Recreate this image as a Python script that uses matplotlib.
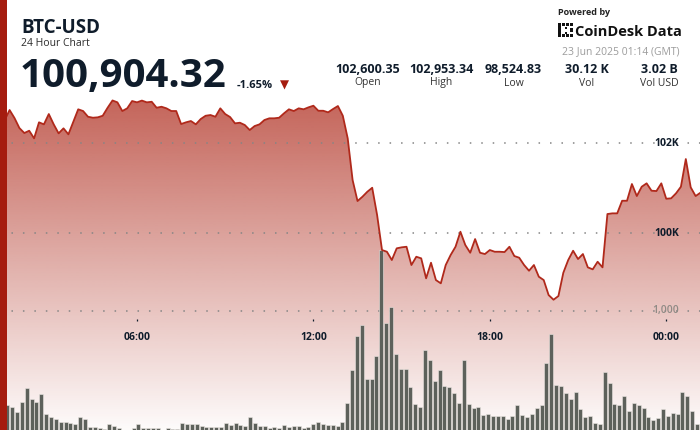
import numpy as np
import pandas as pd
import matplotlib
matplotlib.use("Agg")
import matplotlib.pyplot as plt
import matplotlib.transforms as mtransforms
from matplotlib.patches import Rectangle, PathPatch

plt.rcParams["font.family"] = ["Open Sans", "DejaVu Sans"]

# ---- data (10-minute points, 22 Jun 01:20 -> 23 Jun 01:10) ----
PRICES = [
    102600, 102518, 102740, 102562, 102340, 102229, 102280, 102111, 102467, 102422,
    102651, 102422, 102222, 102333, 102200, 102480, 102756, 102718, 102591, 102569,
    102578, 102613, 102791, 102953, 102911, 102718, 102778, 102940, 102911, 102950,
    102911, 102924, 102791, 102813, 102778, 102718, 102718, 102429, 102467, 102496,
    102422, 102540, 102613, 102629, 102591, 102778, 102651, 102584, 102444, 102458,
    102407, 102296, 102384, 102422, 102518, 102556, 102556, 102569, 102667, 102756,
    102718, 102778, 102756, 102800, 102836, 102724, 102724, 102689, 102762, 102829,
    102613, 102111, 101184, 100718, 100813, 100924, 101013, 100407, 99629, 99591,
    99407, 99667, 99689, 99702, 99296, 99480, 99444, 99000, 99347, 98962,
    98889, 99296, 99518, 99702, 100036, 99740, 99569, 99873, 99569, 99540,
    99629, 99591, 99591, 99584, 99702, 99496, 99458, 99296, 99169, 99296,
    99036, 98962, 98629, 98525, 98607, 99124, 99407, 99613, 99429, 99540,
    99244, 99200, 99369, 99244, 100429, 100444, 100444, 100724, 100724, 101096,
    100829, 101036, 101111, 100947, 100940, 101111, 100769, 100778, 100889, 101036,
    101651, 101022, 100829, 100904,
]
VOLUMES = [
    230, 260, 211, 191, 149, 233, 351, 259, 233, 301,
    135, 107, 90, 65, 65, 56, 51, 107, 90, 28,
    28, 19, 8, 48, 36, 14, 4, 4, 19, 51,
    14, 14, 14, 19, 3, 17, 11, 11, 56, 51,
    51, 51, 34, 28, 23, 23, 23, 56, 42, 61,
    42, 36, 107, 61, 36, 34, 19, 28, 14, 40,
    23, 34, 34, 19, 28, 51, 70, 53, 42, 42,
    34, 67, 225, 505, 792, 879, 430, 427, 623, 1516,
    899, 1030, 640, 511, 514, 365, 219, 191, 674, 590,
    413, 508, 371, 360, 309, 230, 584, 222, 183, 191,
    129, 137, 120, 120, 118, 95, 118, 213, 126, 110,
    137, 183, 208, 562, 803, 379, 371, 314, 261, 320,
    174, 112, 115, 56, 51, 486, 393, 219, 211, 284,
    160, 225, 208, 185, 107, 87, 99, 174, 115, 141,
    135, 318, 289, 160, 48,
]
TIMES = pd.date_range("2025-06-22 01:20", periods=len(PRICES), freq="10min")
HOURS = ((TIMES - pd.Timestamp("2025-06-22")) / pd.Timedelta(hours=1)).to_numpy()

TICK_HOURS = [6, 12, 18, 24]
TICK_LABELS = ["06:00", "12:00", "18:00", "00:00"]
PRICE_TICKS = [102000, 100000]
PRICE_TICK_LABELS = ["102K", "100K"]
VOL_TICK = 1000
VOL_TICK_LABEL = "1,000"

STAT_VALUES = ["102,600.35", "102,953.34", "98,524.83", "30.12 K", "3.02 B"]
STAT_LABELS = ["Open", "High", "Low", "Vol", "Vol USD"]

# ---- layout ----
W, H = 700, 430
DARK = "#0f1c2b"
RED = "#a51c0f"
LINE_RED = "#b0291b"
GRID = "#858585"


def fx(px):
    return px / W


def fy(py):
    return 1 - py / H


fig = plt.figure(figsize=(7, 4.3), dpi=100)
fig.patch.set_facecolor("white")

XLIM = (1.34, 25.149)
PLIM = (95630, 105185)

ax = fig.add_axes([0, 0, 1, 1], zorder=0)
ax.set_xlim(*XLIM)
ax.set_ylim(*PLIM)
ax.axis("off")

# gradient fill under the price line
poly = ax.fill_between(HOURS, PRICES, PLIM[0], facecolor="none", edgecolor="none")
clip = PathPatch(poly.get_paths()[0], transform=ax.transData, facecolor="none", edgecolor="none")
ax.add_patch(clip)
grad = np.zeros((256, 1, 4))
grad[..., 0] = 178 / 255
grad[..., 1] = 52 / 255
grad[..., 2] = 38 / 255
grad[..., 3] = np.linspace(0.76, 0.02, 256)[:, None]
im = ax.imshow(grad, extent=[XLIM[0], XLIM[1], PLIM[0], max(PRICES)], origin="upper",
               aspect="auto", zorder=1, interpolation="bilinear")
im.set_clip_path(clip)
ax.set_xlim(*XLIM)
ax.set_ylim(*PLIM)

# volume bars on their own axes
axv = fig.add_axes([0, 0, 1, 1], zorder=1)
axv.patch.set_alpha(0)
idx = np.arange(len(VOLUMES))
axv.bar(idx, VOLUMES, width=0.84, color="#5d615b", edgecolor="#ebe6e2", linewidth=0.4)
axv.axhline(VOL_TICK, color=GRID, lw=1.1, linestyle=(0, (1, 6.5)), zorder=0)
axv.set_xlim(0.5, 144.62)
axv.set_ylim(0, 3613)
axv.axis("off")
tv = mtransforms.blended_transform_factory(axv.transAxes, axv.transData)
axv.text(fx(679), VOL_TICK, VOL_TICK_LABEL, transform=tv, ha="right", va="center",
         fontsize=7.5, color="#8f8a85", fontweight="semibold")

# price line and price grid on top
axl = fig.add_axes([0, 0, 1, 1], zorder=2, sharex=ax, sharey=ax)
axl.patch.set_alpha(0)
for p in PRICE_TICKS:
    axl.axhline(p, color=GRID, lw=1.1, linestyle=(0, (1, 6.5)), zorder=1)
axl.plot(HOURS, PRICES, color=LINE_RED, lw=1.3, solid_joinstyle="round", zorder=2)
axl.set_xlim(*XLIM)
axl.set_ylim(*PLIM)
axl.axis("off")

ty = mtransforms.blended_transform_factory(axl.transAxes, axl.transData)
for p, lab in zip(PRICE_TICKS, PRICE_TICK_LABELS):
    axl.text(fx(679), p, lab, transform=ty, ha="right", va="center",
             fontsize=7.5, color=DARK, fontweight="bold")

tx = mtransforms.blended_transform_factory(axl.transData, axl.transAxes)
axl.vlines(TICK_HOURS, fy(321), fy(318.5), transform=tx, color=DARK, lw=0.9)
for h, lab in zip(TICK_HOURS, TICK_LABELS):
    axl.text(h, fy(337), lab, transform=tx, ha="center", va="center",
             fontsize=7.5, color=DARK, fontweight="bold")

# left red stripe
fig.add_artist(Rectangle((0, 0), fx(7), 1, transform=fig.transFigure,
                         facecolor=RED, edgecolor="none", zorder=10))

# header
fig.text(fx(21), fy(33), "BTC-USD", fontsize=13.5, fontweight="bold", color=DARK, va="baseline")
fig.text(fx(21), fy(46.5), "24 Hour Chart", fontsize=7.5, color="#2b2b2b", va="baseline")
fig.text(fx(20), fy(87.5), "100,904.32", fontsize=29, fontweight="bold", color=DARK, va="baseline")
fig.text(fx(237), fy(87.5), "-1.65%", fontsize=8, fontweight="bold", color=DARK, va="baseline")
fig.text(fx(280), fy(88.5), "\u25bc", fontsize=8.5, color=RED, va="baseline", family="DejaVu Sans")

STAT_X = [368, 441, 513.5, 587, 659]
for cx, v, lab in zip(STAT_X, STAT_VALUES, STAT_LABELS):
    fig.text(fx(cx), fy(73.3), v, fontsize=9, fontweight="bold", color=DARK, ha="center", va="baseline")
    fig.text(fx(cx), fy(85.5), lab, fontsize=7.5, color="#333333", ha="center", va="baseline")

# branding
fig.text(fx(558), fy(15), "Powered by", fontsize=6.5, fontweight="bold", color="#222222", va="baseline")
logo = [(558, 23, 3, 14), (562, 23, 3, 3), (566, 23, 3, 3), (570, 23, 3, 3),
        (562, 34, 3, 3), (566, 34, 3, 3), (570, 34, 3, 3), (570, 28.5, 3, 3),
        (565, 27, 2, 2), (565, 32, 2, 2)]
for x0, y0, w, h in logo:
    fig.add_artist(Rectangle((fx(x0), fy(y0 + h)), w / W, h / H, transform=fig.transFigure,
                             facecolor="#111111", edgecolor="none"))
fig.text(fx(575), fy(36.5), "CoinDesk Data", fontsize=10.5, fontweight="bold", color="#111111", va="baseline")
fig.text(fx(680), fy(54.5), "23 Jun 2025 01:14 (GMT)", fontsize=7.5, color="#9c9c9c", ha="right", va="baseline")

fig.savefig("out.png", dpi=100)
